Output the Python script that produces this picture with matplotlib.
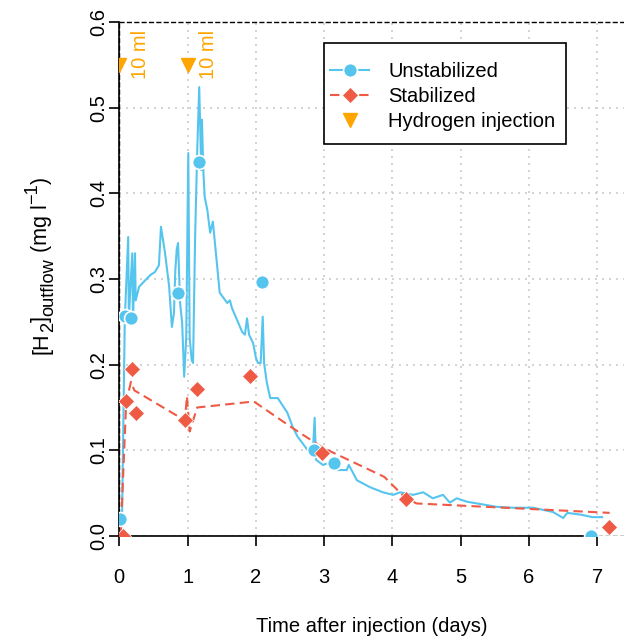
import matplotlib
matplotlib.use("Agg")
import matplotlib.pyplot as plt
from matplotlib.lines import Line2D
from matplotlib.patches import Rectangle

plt.rcParams['font.family'] = ['Liberation Sans', 'DejaVu Sans']

BLUE = '#56c5ee'
RED = '#ef5a45'
ORANGE = '#ffa500'

# continuous logger signal, unstabilized column
unstab_t = [0.02, 0.04, 0.08, 0.13, 0.14, 0.16, 0.19, 0.20, 0.23, 0.24, 0.29, 0.35,
            0.41, 0.46, 0.52, 0.58, 0.61, 0.67, 0.73, 0.77, 0.80, 0.82, 0.84, 0.86,
            0.89, 0.92, 0.95, 0.98, 1.01, 1.03, 1.06, 1.08, 1.11, 1.14, 1.17, 1.20,
            1.21, 1.23, 1.25, 1.29, 1.33, 1.37, 1.47, 1.58, 1.62, 1.65, 1.80, 1.84,
            1.87, 1.90, 1.96, 2.00, 2.03, 2.07, 2.10, 2.12, 2.16, 2.21, 2.32, 2.46,
            2.54, 2.61, 2.76, 2.83, 2.86, 2.88, 2.98, 3.06, 3.16, 3.33, 3.36, 3.48,
            3.67, 3.86, 4.01, 4.11, 4.30, 4.45, 4.59, 4.74, 4.84, 4.94, 5.09, 5.53,
            5.76, 6.06, 6.35, 6.50, 6.56, 6.75, 6.93, 7.07]
unstab_y = [0.004, 0.022, 0.252, 0.349, 0.252, 0.287, 0.330, 0.252, 0.330, 0.275, 0.291, 0.296,
            0.301, 0.305, 0.308, 0.316, 0.361, 0.330, 0.291, 0.244, 0.260, 0.310, 0.334, 0.342,
            0.272, 0.249, 0.186, 0.232, 0.447, 0.232, 0.205, 0.202, 0.349, 0.447, 0.524, 0.427,
            0.486, 0.427, 0.396, 0.380, 0.354, 0.367, 0.284, 0.272, 0.275, 0.266, 0.238, 0.235,
            0.254, 0.235, 0.225, 0.208, 0.202, 0.202, 0.256, 0.202, 0.179, 0.161, 0.161, 0.144,
            0.127, 0.116, 0.100, 0.092, 0.138, 0.089, 0.083, 0.085, 0.077, 0.077, 0.083, 0.065,
            0.057, 0.051, 0.048, 0.051, 0.048, 0.051, 0.044, 0.048, 0.039, 0.044, 0.040, 0.034,
            0.033, 0.033, 0.028, 0.021, 0.027, 0.025, 0.022, 0.022]

# grab samples, unstabilized
unstab_pt_t = [0.01, 0.09, 0.17, 0.86, 1.17, 2.09, 2.85, 3.14, 6.90]
unstab_pt_y = [0.020, 0.257, 0.255, 0.284, 0.437, 0.297, 0.100, 0.085, 0.000]

# stabilized column: fitted line + grab samples
stab_t = [0.02, 0.10, 0.17, 0.22, 0.96, 0.99, 1.03, 1.14, 1.97, 2.50, 2.98, 3.88, 4.17, 4.35, 7.18]
stab_y = [0.000, 0.155, 0.180, 0.170, 0.135, 0.163, 0.122, 0.150, 0.157, 0.128, 0.103, 0.069, 0.046, 0.038, 0.027]
stab_pt_t = [0.05, 0.10, 0.18, 0.25, 0.96, 1.14, 1.92, 2.97, 4.20, 7.17]
stab_pt_y = [0.000, 0.157, 0.195, 0.143, 0.135, 0.171, 0.187, 0.097, 0.043, 0.011]

inj_t = [0, 1]
inj_y = [0.55, 0.55]
inj_label = ['10 ml', '10 ml']

FS = 14.5
W, H = 624, 639
fig = plt.figure(figsize=(W / 100, H / 100), dpi=100)
ax = fig.add_axes([0.1912, 0.1612, 0.8088, 0.8044])
ax.set_xlim(0, 7.39)
ax.set_ylim(0, 0.6)

# grid
for x in range(0, 8):
    ax.axvline(x, color='#cccccc', lw=1.2, dashes=(1.2, 3), zorder=0)
for y in [0.1, 0.2, 0.3, 0.4, 0.5]:
    ax.axhline(y, color='#cccccc', lw=1.2, dashes=(1.2, 3), zorder=0)

ax.axvline(0, color='black', lw=1, ls='--', zorder=1)
ax.axhline(0, color='black', lw=1, ls='--', zorder=1)
ax.axhline(0.6, color='black', lw=1, ls='--', zorder=1, clip_on=False)

ax.plot(unstab_t, unstab_y, color=BLUE, lw=1.5, zorder=2)
ax.plot(stab_t, stab_y, color=RED, lw=1.5, dashes=(4.5, 2.5), zorder=2)
ax.plot(unstab_pt_t, unstab_pt_y, 'o', color=BLUE, ms=10, mec='white', mew=1.2, zorder=3)
ax.plot(stab_pt_t, stab_pt_y, 'D', color=RED, ms=8, mec='white', mew=0.5, zorder=3)

ax.plot(inj_t, inj_y, 'v', color=ORANGE, ms=10, zorder=3)
for t, y, s in zip(inj_t, inj_y, inj_label):
    ax.text(t + 0.31, 0.533, s, rotation=90, color=ORANGE, fontsize=FS,
            ha='center', va='bottom')

for side in ['top', 'right']:
    ax.spines[side].set_visible(False)
ax.spines['bottom'].set_bounds(0, 7)
ax.spines['bottom'].set_linewidth(1.2)
ax.spines['left'].set_linewidth(1.2)

ax.set_xticks(range(0, 8))
ax.set_yticks([0.0, 0.1, 0.2, 0.3, 0.4, 0.5, 0.6])
ax.set_yticklabels(['0.0', '0.1', '0.2', '0.3', '0.4', '0.5', '0.6'], rotation=90, va='center')
ax.tick_params(axis='both', labelsize=FS, length=7, width=1.2)
ax.tick_params(axis='x', pad=16)
ax.tick_params(axis='y', pad=1)

ax.set_xlabel('Time after injection (days)', fontsize=FS, labelpad=22)

# y label built piece by piece (plotmath-like sub/superscripts)
LFS = 15.5
pieces = [('[H', 0), ('2', -1), (']', 0), ('outflow', -1), (' (mg l', 0), ('\u22121', 1), (')', 0)]
px_pt = 100 / 72
fig.canvas.draw()
renderer = fig.canvas.get_renderer()
texts = []
total = 0
for s, lvl in pieces:
    size = LFS if lvl == 0 else LFS * 0.85
    shift = {0: 0, -1: 0.3 * LFS * px_pt, 1: -0.45 * LFS * px_pt}[lvl]
    t = fig.text(0, 0, s, fontsize=size, rotation=90, rotation_mode='anchor',
                 ha='left', va='baseline', transform=None)
    bb = t.get_window_extent(renderer)
    texts.append((t, shift, total))
    total += bb.height
base_x = 47
y0 = (H - 265) - total / 2
for t, shift, off in texts:
    t.set_position((base_x + shift, y0 + off))

# legend: text/handles without frame, box drawn separately (R-style padding)
handles = [
    Line2D([], [], color=BLUE, lw=1.5, marker='o', ms=10, mec='white', mew=1.2),
    Line2D([], [], color=RED, lw=1.5, dashes=(4.5, 2.5), marker='D', ms=8, mec='white', mew=0.5),
    Line2D([], [], color=ORANGE, lw=0, marker='v', ms=10),
]
fig.legend(handles, ['Unstabilized', 'Stabilized', 'Hydrogen injection'],
           loc='upper left', bbox_to_anchor=(330 / W, 1 - 62 / H), fontsize=FS,
           frameon=False, borderaxespad=0, borderpad=0, handlelength=1.95,
           handletextpad=0.95, labelspacing=0.3)
fig.patches.append(Rectangle((324 / W, 1 - 144 / H), 242 / W, 101 / H,
                             transform=fig.transFigure, fill=True, facecolor='white',
                             edgecolor='black', lw=1.2, zorder=4))

fig.savefig('out.png', dpi=100)
